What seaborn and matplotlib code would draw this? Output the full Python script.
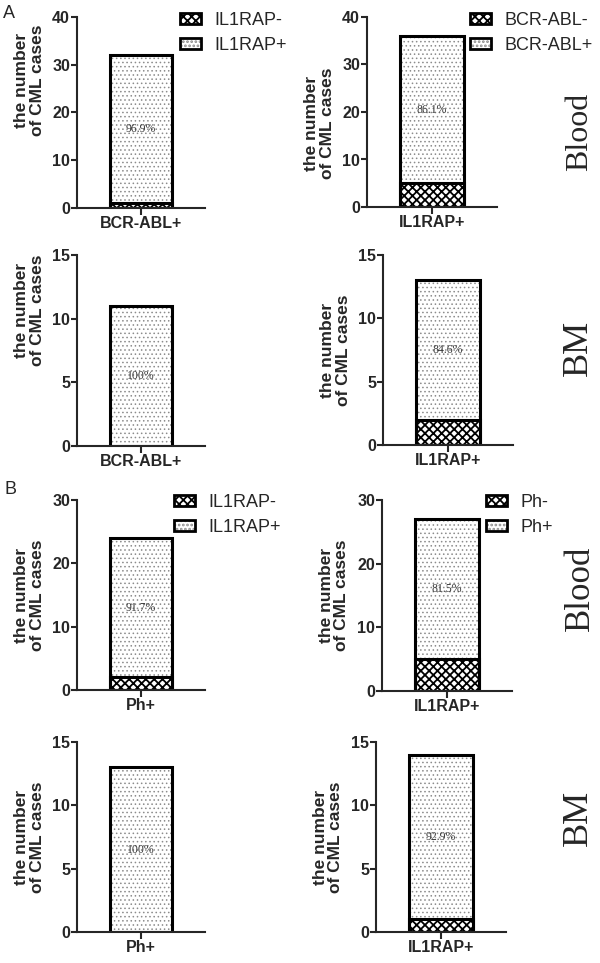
"""
IL1RAP / BCR-ABL / Ph status of CML cases, blood and bone marrow
"""

import matplotlib as mpl
import matplotlib.pyplot as plt
import seaborn as sns
from matplotlib.patches import Patch
from matplotlib.legend_handler import HandlerTuple

sns.set_style("ticks")
plt.rcParams["font.family"] = ["Liberation Sans", "DejaVu Sans"]
plt.rcParams["hatch.linewidth"] = 1.3

# data: one bar per panel, total cases and the "negative" part at the bottom
categories = ["BCR-ABL+", "IL1RAP+", "BCR-ABL+", "IL1RAP+",
              "Ph+", "IL1RAP+", "Ph+", "IL1RAP+"]
totals = [32, 36, 11, 13, 24, 27, 13, 14]
negatives = [1, 5, 0, 2, 2, 5, 0, 1]
percents = ["96.9%", "86.1%", "100%", "84.6%", "91.7%", "81.5%", "100%", "92.9%"]
ymax = [40, 40, 15, 15, 30, 30, 15, 15]
ystep = [10, 10, 5, 5, 10, 10, 5, 5]
legend_labels = [("IL1RAP-", "IL1RAP+"), ("BCR-ABL-", "BCR-ABL+"), None, None,
                 ("IL1RAP-", "IL1RAP+"), ("Ph-", "Ph+"), None, None]

# layout in pixels (left, top, width, height) on a 600x963 canvas
W, H = 600, 963
boxes = [(77, 17, 128, 191), (367, 17, 130, 190),
         (77, 255, 128, 191), (383, 255, 130, 190),
         (77, 500, 128, 190), (382, 500, 130, 191),
         (77, 742, 128, 190), (376, 742, 130, 190)]
label_y = [0.67, 0.44, 0.71, 0.5, 0.5, 0.5, 0.5, 0.5]
legend_xy = [(180, 12), (470, 12), None, None, (174, 494), (486, 494), None, None]

DOT = "...."
CHECK = "xxxx"
DOT_COLOR = "#8c8c8c"

fig = plt.figure(figsize=(W / 100, H / 100), dpi=100)

for i in range(8):
    l, t, w, h = boxes[i]
    ax = fig.add_axes([l / W, 1 - (t + h) / H, w / W, h / H])
    cat = [categories[i]]

    # fills first (hatch colour follows the edge colour, so no outline here)
    with mpl.rc_context({"hatch.linewidth": 0.6}):
        sns.barplot(x=cat, y=[totals[i]], ax=ax, color="white", width=0.49,
                    hatch=DOT, edgecolor=DOT_COLOR, linewidth=0, errorbar=None)
    if negatives[i] > 0:
        sns.barplot(x=cat, y=[negatives[i]], ax=ax, color="white", width=0.49,
                    hatch=CHECK, edgecolor="black", linewidth=0, errorbar=None)
    # outlines
    sns.barplot(x=cat, y=[totals[i]], ax=ax, fill=False, width=0.49,
                edgecolor="black", linewidth=2.2, errorbar=None)
    if negatives[i] > 0:
        sns.barplot(x=cat, y=[negatives[i]], ax=ax, fill=False, width=0.49,
                    edgecolor="black", linewidth=2.2, errorbar=None)

    ax.text(0, (totals[i] + negatives[i]) / 2, percents[i], ha="center",
            va="center", fontsize=8.5, color="#3a3a3a", family="Liberation Serif")

    ax.set_ylim(0, ymax[i])
    ax.set_yticks(range(0, ymax[i] + 1, ystep[i]))
    ax.set_xlim(-0.5, 0.5)
    sns.despine(ax=ax)
    for s in ["left", "bottom"]:
        ax.spines[s].set_linewidth(1.5)
    ax.tick_params(axis="y", length=4, width=1.5, pad=1, labelsize=11.5)
    ax.tick_params(axis="x", length=5, width=1.5, pad=1, labelsize=11.5)
    for lab in ax.get_xticklabels() + ax.get_yticklabels():
        lab.set_fontweight("bold")
    ax.set_xlabel("")
    ax.set_ylabel("the number\nof CML cases", fontsize=12.5, fontweight="bold",
                  linespacing=1.05)
    ax.yaxis.set_label_coords(-0.25, label_y[i])

    if legend_labels[i] is not None:
        with mpl.rc_context({"hatch.linewidth": 0.6}):
            dots = Patch(facecolor="white", edgecolor=DOT_COLOR, hatch=DOT, linewidth=0)
        checks = Patch(facecolor="white", edgecolor="black", hatch=CHECK, linewidth=0)
        frame = Patch(fill=False, edgecolor="black", linewidth=2)
        lx, ly = legend_xy[i]
        ax.legend([(checks, frame), (dots, frame)], legend_labels[i],
                  handler_map={tuple: HandlerTuple(ndivide=1, pad=0)},
                  loc="upper left", bbox_to_anchor=(lx / W, 1 - ly / H),
                  bbox_transform=fig.transFigure,
                  frameon=False, fontsize=13, borderpad=0, borderaxespad=0,
                  handlelength=1.15, handleheight=0.6, handletextpad=0.75,
                  labelspacing=0.45)

# side labels and panel letters
fig.text(580 / W, 1 - 132 / H, "Blood", rotation=90, ha="center", va="center",
         fontsize=23, family="Liberation Serif")
fig.text(578 / W, 1 - 348 / H, "BM", rotation=90, ha="center", va="center",
         fontsize=26, family="Liberation Serif")
fig.text(580 / W, 1 - 588 / H, "Blood", rotation=90, ha="center", va="center",
         fontsize=25, family="Liberation Serif")
fig.text(578 / W, 1 - 818 / H, "BM", rotation=90, ha="center", va="center",
         fontsize=26, family="Liberation Serif")
fig.text(3 / W, 1 - 14 / H, "A", ha="left", va="center", fontsize=13)
fig.text(4 / W, 1 - 489 / H, "B", ha="left", va="center", fontsize=13)

fig.savefig("out.png", dpi=100)
